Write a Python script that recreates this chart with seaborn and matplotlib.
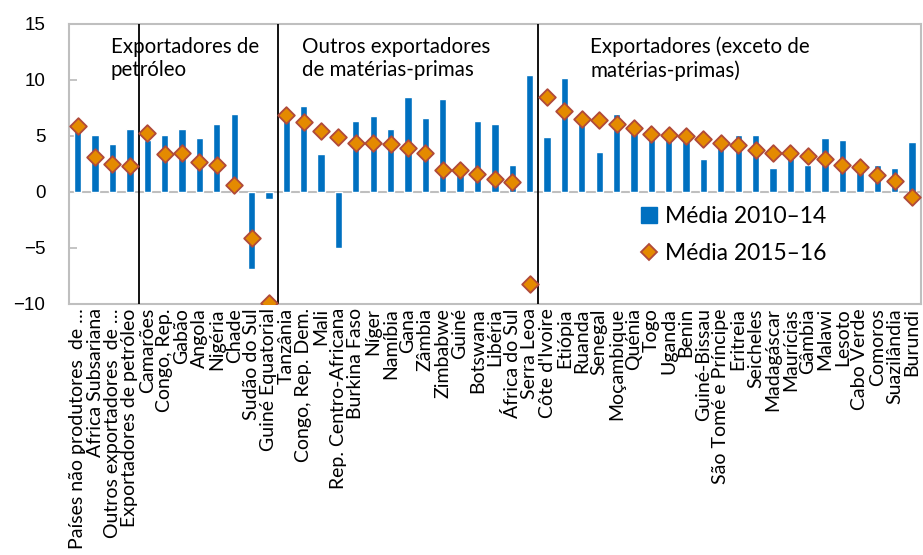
import matplotlib
matplotlib.use("Agg")
import matplotlib.pyplot as plt
from matplotlib.patches import Patch
from matplotlib.lines import Line2D
import seaborn as sns
import pandas as pd

paises = [
    "Países não produtores  de …", "África Subsariana", "Outros exportadores  de …",
    "Exportadores de petróleo", "Camarões", "Congo, Rep.", "Gabão", "Angola", "Nigéria",
    "Chade", "Sudão do Sul", "Guiné Equatorial", "Tanzânia", "Congo, Rep. Dem.", "Mali",
    "Rep. Centro-Africana", "Burkina Faso", "Níger", "Namíbia", "Gana", "Zâmbia",
    "Zimbabwe", "Guiné", "Botswana", "Libéria", "África do Sul", "Serra Leoa",
    "Côte d'Ivoire", "Etiópia", "Ruanda", "Senegal", "Moçambique", "Quénia", "Togo",
    "Uganda", "Benin", "Guiné-Bissau", "São Tomé e Príncipe", "Eritreia", "Seicheles",
    "Madagáscar", "Maurícias", "Gâmbia", "Malawi", "Lesoto", "Cabo Verde", "Comoros",
    "Suazilândia", "Burundi",
]
media_2010_14 = [
    5.6, 5.1, 4.3, 5.6, 4.6, 5.1, 5.6, 4.8, 6.1, 7.0, -6.9, -0.6, 6.7, 7.7, 3.4, -5.0,
    6.3, 6.8, 5.6, 8.5, 6.6, 8.3, 2.6, 6.3, 6.1, 2.4, 10.4, 4.9, 10.2, 6.7, 3.6, 7.0,
    5.5, 4.8, 4.8, 4.8, 2.9, 4.1, 5.1, 5.1, 2.1, 3.3, 2.4, 4.8, 4.6, 2.1, 2.4, 2.1, 4.5,
]
media_2015_16 = [
    5.9, 3.1, 2.5, 2.3, 5.3, 3.35, 3.5, 2.65, 2.4, 0.6, -4.1, -9.9, 6.85, 6.25, 5.45,
    4.95, 4.4, 4.4, 4.25, 3.95, 3.45, 2.0, 2.0, 1.6, 1.15, 0.85, -8.2, 8.5, 7.2, 6.55,
    6.45, 6.05, 5.7, 5.15, 5.1, 5.0, 4.7, 4.4, 4.15, 3.75, 3.5, 3.5, 3.25, 2.9, 2.4,
    2.2, 1.5, 1.0, -0.45,
]
serie_labels = ["Média 2010–14", "Média 2015–16"]
grupos = ["Exportadores de\npetróleo", "Outros exportadores\nde matérias-primas",
          "Exportadores (exceto de\nmatérias-primas)"]
divisores = [3.5, 11.5, 26.5]
yticks = [-10, -5, 0, 5, 10, 15]

df = pd.DataFrame({"pais": paises, "v1": media_2010_14, "v2": media_2015_16})

sns.set_style("white")
plt.rcParams["font.family"] = ["Lato", "DejaVu Sans"]
plt.rcParams["text.color"] = "black"
plt.rcParams["xtick.color"] = "black"
plt.rcParams["ytick.color"] = "black"

BLUE = "#0070C0"
ORANGE = "#E48A00"
EDGE = "#B04A3A"
GRAY = "#BFBFBF"

fig = plt.figure(figsize=(9.23, 5.55), dpi=100)
ax = fig.add_axes([0.0748, 0.4523, 0.9227, 0.5045])

sns.barplot(data=df, x="pais", y="v1", color=BLUE, width=0.42, saturation=1,
            ax=ax, zorder=2)
sns.scatterplot(data=df, x="pais", y="v2", marker="D", s=72, color=ORANGE,
                edgecolor=EDGE, linewidth=1.3, ax=ax, zorder=4)

ax.set_xlim(-0.5, len(paises) - 0.5)
ax.set_ylim(-10, 15)
ax.set_yticks(yticks)
ax.set_yticklabels([str(v).replace("-", "\u2212") for v in yticks],
                   family="Liberation Sans", fontsize=13.5, color="black")
ax.axhline(0, color=GRAY, lw=1.5, zorder=1)
for d in divisores:
    ax.axvline(d, color="black", lw=1.3, zorder=3)

for s in ax.spines.values():
    s.set_color(GRAY)
    s.set_linewidth(1.5)
ax.tick_params(axis="y", direction="in", length=6, color=GRAY, width=1.3, pad=17,
               left=True, labelcolor="black")
ax.tick_params(axis="x", length=0, pad=3, labelcolor="black")
ax.set_xticks(range(len(paises)))
ax.set_xticklabels(paises, rotation=90, fontsize=14.0, ha="center", va="top")
ax.set_xlabel("")
ax.set_ylabel("")

pos_txt = [1.9, 12.9, 29.5]
for g, xp in zip(grupos, pos_txt):
    ax.text(xp, 13.85, g, fontsize=14.8, ha="left", va="top", linespacing=1.2,
            color="black", zorder=5)

handles = [Patch(facecolor=BLUE, edgecolor=BLUE),
           Line2D([], [], marker="D", ls="none", markersize=8.5,
                  markerfacecolor=ORANGE, markeredgecolor=EDGE, markeredgewidth=1.3)]
ax.legend(handles, serie_labels, loc="upper left", bbox_to_anchor=(0.672, 0.35),
          frameon=False, fontsize=16.5, handlelength=0.7, handleheight=0.7,
          handletextpad=0.35, labelspacing=0.7, borderpad=0, borderaxespad=0)

fig.savefig("out.png", dpi=100)
